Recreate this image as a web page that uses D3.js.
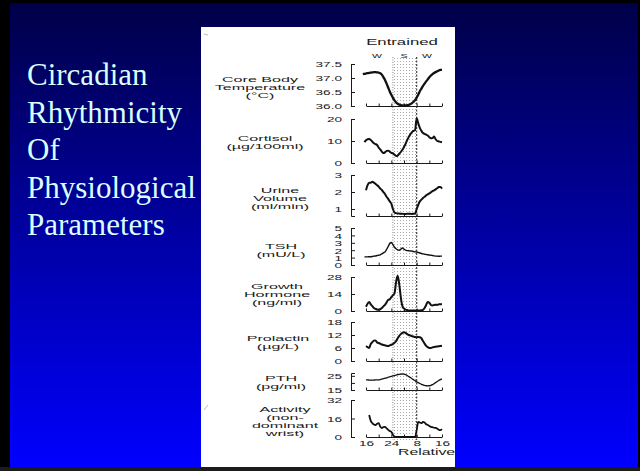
<!DOCTYPE html>
<html>
<head>
<meta charset="utf-8">
<script src="https://cdn.jsdelivr.net/npm/d3@7/dist/d3.min.js"></script>
<style>
  html, body { margin: 0; padding: 0; background: #000; }
  svg { display: block; }
  .fig text { font-family: "Liberation Sans", Arial, sans-serif; fill: #1a1a1a; }
  .axis path, .axis line { stroke: #1a1a1a; }
</style>
</head>
<body>
<svg id="slide" width="640" height="471"></svg>
<script>
// ---- data ----
var titleLines = ["Circadian", "Rhythmicity", "Of", "Physiological", "Parameters"];

// relative clock time, half-hour steps
var hours = [15, 15.5, 16, 16.5, 17, 17.5, 18, 18.5, 19, 19.5, 20, 20.5, 21, 21.5, 22, 22.5,
             23, 23.5, 24, 24.5, 25, 25.5, 26, 26.5, 27, 27.5, 28, 28.5, 29, 29.5, 30, 30.5,
             31, 31.5, 32, 32.5, 33, 33.5, 34, 34.5, 35, 35.5, 36, 36.5, 37, 37.5, 38, 38.5,
             39, 39.5, 40];

var temperature = [37.14, 37.15, 37.16, 37.17, 37.18, 37.19, 37.2, 37.21, 37.21, 37.2, 37.19, 37.17,
  37.12, 37.03, 36.93, 36.8, 36.66, 36.52, 36.4, 36.29, 36.2, 36.13, 36.08, 36.05, 36.03, 36.02,
  36.02, 36.02, 36.03, 36.04, 36.06, 36.1, 36.15, 36.21, 36.3, 36.4, 36.53, 36.62, 36.72, 36.8,
  36.88, 36.95, 37.03, 37.09, 37.14, 37.18, 37.21, 37.24, 37.27, 37.29, 37.3];

var cortisol = [null, 9.5, 10.3, 10.8, 10.9, 10.5, 9.7, 9.0, 8.6, 8.2, 7.0, 6.2, 5.2, 4.5, 4.8, 5.5,
  5.6, 5.2, 4.6, 4.4, 3.8, 3.2, 3.4, 4.2, 5.0, 6.0, 7.3, 8.7, 10.4, 11.8, 13.0, 14.0, 14.6, 15.0,
  20.3, 18.0, 16.0, 14.6, 13.6, 13.2, 12.9, 12.5, 11.7, 11.2, 11.3, 12.0, 10.8, 10.0, 9.8, 9.6, 9.4];

var urine = [null, null, 2.1, 2.4, 2.55, 2.55, 2.6, 2.55, 2.48, 2.4, 2.32, 2.2, 2.12, 2.0, 1.88, 1.72,
  1.6, 1.45, 1.32, 1.0, 0.8, 0.76, 0.74, 0.73, 0.72, 0.72, 0.71, 0.71, 0.72, 0.72, 0.72, 0.71, 0.72,
  0.73, 1.0, 1.25, 1.45, 1.55, 1.65, 1.72, 1.8, 1.86, 1.92, 1.98, 2.05, 2.1, 2.16, 2.22, 2.3, 2.3, 2.2];

var tsh = [null, 1.1, 1.1, 1.1, 1.12, 1.12, 1.15, 1.2, 1.22, 1.28, 1.32, 1.38, 1.5, 1.65, 1.75, 2.1,
  2.5, 2.9, 3.05, 2.75, 2.4, 2.2, 2.05, 2.0, 2.15, 2.3, 2.15, 2.0, 1.95, 1.92, 1.9, 1.88, 1.82, 1.78,
  1.75, 1.7, 1.62, 1.55, 1.5, 1.46, 1.42, 1.38, 1.35, 1.32, 1.28, 1.24, 1.2, 1.2, 1.18, 1.2, 1.2];

var growthHormone = [null, null, 3.5, 6, 7.5, 5.5, 4.0, 2.5, 1.8, 1.2, 1.0, 1.5, 2.4, 3.8, 5.0, 7.0,
  9.2, 9.6, 11.5, 13.0, 14.5, 24, 29, 22, 11, 4, 2.0, 1.2, 0.8, 0.5, 0.5, 0.5, 0.5, 0.5, 0.5, 0.5,
  0.5, 0.6, 1.0, 2.5, 5.0, 7.5, 6.8, 5.0, 4.5, 5.0, 5.2, 5.0, 5.5, 5.6, 5.5];

var prolactin = [null, null, 6.9, 6.4, 6.0, 7.8, 8.7, 9.4, 9.5, 8.6, 8.3, 8.0, 7.6, 7.4, 7.2, 7.0,
  6.9, 7.2, 7.5, 7.8, 8.4, 9.2, 10.5, 11.6, 12.4, 13.0, 13.3, 13.0, 12.4, 12.0, 11.8, 11.5, 11.3,
  11.1, 11.0, 11.1, 11.0, 10.5, 9.2, 8.0, 7.0, 6.4, 6.0, 6.0, 6.3, 6.5, 6.6, 6.7, 6.8, 6.9, 7.0];

var pth = [null, null, 22.1, 22.1, 22.0, 22.0, 22.0, 22.0, 22.1, 22.1, 22.2, 22.4, 22.7, 23.0, 23.3,
  23.6, 24.0, 24.3, 24.6, 24.9, 25.2, 25.5, 25.8, 26.0, 26.2, 26.3, 26.2, 25.8, 25.2, 24.5, 23.8,
  23.0, 22.3, 21.6, 20.8, 20.2, 19.6, 19.0, 18.6, 18.2, 18.0, 17.9, 18.0, 18.3, 18.8, 19.5, 20.2,
  21.0, 21.7, 22.3, 22.9];

var activity = [null, null, null, null, 19, 14, 12, 10.8, 10.4, 11.5, 12, 9, 7.8, 8.5, 8.7, 7.5,
  6.2, 5.2, 4.5, 2.0, 0.5, 0, 0, 0, 0, 0, 0, 0, 0, 0, 0, 0, 0, 0,
  6, 13, 12.5, 12, 13, 12.5, 11.0, 10.4, 9.5, 8.7, 8.5, 8.0, 7.8, 7.2, 6.2, 6.0, 6.9];

var sleepHours = [24.5, 32];
var hourTicks = [16, 20, 24, 28, 32, 36, 40];
var hourTickLabels = ["16", "", "24", "", "8", "", "16"];

var tempTicks = [36.0, 36.5, 37.0, 37.5];
var cortisolTicks = [0, 10, 20];
var urineTicks = [1, 2, 3];
var tshTicks = [0, 1, 2, 3, 4, 5];
var ghTicks = [0, 14, 28];
var prolactinTicks = [0, 6, 12, 18];
var pthTicks = [15, 20, 25];
var pthTickLabels = ["15", "", "25"];
var activityTicks = [0, 16, 32];

var tempLabel = ["Core Body", "Temperature", "(\u00B0C)"];
var cortisolLabel = ["Cortisol", "(\u00B5g/100ml)"];
var urineLabel = ["Urine", "Volume", "(ml/min)"];
var tshLabel = ["TSH", "(mU/L)"];
var ghLabel = ["Growth", "Hormone", "(ng/ml)"];
var prolactinLabel = ["Prolactin", "(\u00B5g/L)"];
var pthLabel = ["PTH", "(pg/ml)"];
var activityLabel = ["Activity", "(non-", "dominant", "wrist)"];

// ---- slide ----
var svg = d3.select("#slide");
var defs = svg.append("defs");
var grad = defs.append("linearGradient").attr("id", "bg").attr("x1", 0).attr("y1", 0).attr("x2", 0).attr("y2", 1);
grad.append("stop").attr("offset", "0%").attr("stop-color", "#000048");
grad.append("stop").attr("offset", "100%").attr("stop-color", "#0000ff");

var dots = defs.append("pattern").attr("id", "dots").attr("width", 3).attr("height", 3)
  .attr("patternUnits", "userSpaceOnUse");
dots.append("rect").attr("x", 1).attr("y", 1).attr("width", 1).attr("height", 1).attr("fill", "#aaa");

svg.append("rect").attr("width", 640).attr("height", 471).attr("fill", "#000");
svg.append("rect").attr("x", 10).attr("y", 3).attr("width", 628).attr("height", 464).attr("fill", "url(#bg)");
svg.append("rect").attr("x", 0).attr("y", 467).attr("width", 640).attr("height", 4).attr("fill", "#1c1c1c");

svg.append("g").selectAll("text").data(titleLines).enter().append("text")
  .attr("x", 27)
  .attr("y", function(d, i) { return 85 + i * 37.5; })
  .style("font-family", "'Liberation Serif', 'Times New Roman', serif")
  .style("font-size", "31px")
  .style("fill", "#d8ffff")
  .text(function(d) { return d; });

// ---- figure ----
svg.append("rect").attr("x", 201).attr("y", 27).attr("width", 254).attr("height", 440).attr("fill", "#fff");
var fig = svg.append("g").attr("class", "fig");

// scan specks
fig.append("line").attr("x1", 204).attr("y1", 34).attr("x2", 208).attr("y2", 35)
  .attr("stroke", "#bbb").attr("stroke-width", 1);
fig.append("line").attr("x1", 204).attr("y1", 410).attr("x2", 208).attr("y2", 405)
  .attr("stroke", "#aaa").attr("stroke-width", 0.8);

var x = d3.scaleLinear().domain([16, 40]).range([366, 442]);

function stretched(g, tx, ty, str, size, sx, anchor) {
  return g.append("text")
    .attr("transform", "translate(" + tx + "," + ty + ") scale(" + sx + ",1)")
    .attr("text-anchor", anchor)
    .style("font-size", size + "px")
    .text(str);
}

// sleep band
fig.append("rect")
  .attr("x", x(sleepHours[0])).attr("y", 57)
  .attr("width", x(sleepHours[1]) - x(sleepHours[0])).attr("height", 383)
  .attr("fill", "url(#dots)");
fig.append("line").attr("x1", x(sleepHours[0])).attr("x2", x(sleepHours[0]))
  .attr("y1", 57).attr("y2", 440).attr("stroke", "#888").attr("stroke-dasharray", "1,1.5");
fig.append("line").attr("x1", x(sleepHours[1])).attr("x2", x(sleepHours[1]))
  .attr("y1", 57).attr("y2", 440).attr("stroke", "#333").attr("stroke-width", 1.1)
  .attr("stroke-dasharray", "2,1.5");

// header
stretched(fig, 402, 45, "Entrained", 8.6, 1.95, "middle");
stretched(fig, 377, 57.5, "W", 6.2, 1.7, "middle");
stretched(fig, 404, 57.5, "S", 6.2, 1.7, "middle");
stretched(fig, 427, 57.5, "W", 6.2, 1.7, "middle");

// layout of the eight stacked panels (pixel rows of the scan)
var panels = [
  { values: temperature, domain: [36.0, 37.5], top: 64, bottom: 106, ticks: tempTicks,
    fmt: function(d) { return d3.format(".1f")(d); }, label: tempLabel, lx: 260, lmid: 87, w: 2.3 },
  { values: cortisol, domain: [0, 20], top: 119, bottom: 163, ticks: cortisolTicks,
    label: cortisolLabel, lx: 265, lmid: 142.5, w: 2 },
  { values: urine, domain: [0.59, 3], top: 175, bottom: 216, ticks: urineTicks,
    label: urineLabel, lx: 280, lmid: 198.5, w: 2 },
  { values: tsh, domain: [0, 5], top: 228, bottom: 265, ticks: tshTicks,
    label: tshLabel, lx: 281, lmid: 250.5, w: 1.4 },
  { values: growthHormone, domain: [0, 28], top: 277, bottom: 311, ticks: ghTicks,
    label: ghLabel, lx: 277, lmid: 294.5, w: 2 },
  { values: prolactin, domain: [0, 18], top: 322, bottom: 361, ticks: prolactinTicks,
    label: prolactinLabel, lx: 278, lmid: 342.5, w: 2 },
  { values: pth, domain: [15, 27], top: 373, bottom: 390, ticks: pthTicks,
    fmt: function(d, i) { return pthTickLabels[i]; }, label: pthLabel, lx: 281, lmid: 382.5, w: 1.3 },
  { values: activity, domain: [0, 32], top: 400, bottom: 437, ticks: activityTicks,
    label: activityLabel, lx: 285, lmid: 421.5, w: 1.8, last: true }
];

var LINE_GAP = 8;

panels.forEach(function(p) {
  var y = d3.scaleLinear().domain(p.domain).range([p.bottom, p.top]);
  var g = fig.append("g");

  // y axis bracket, ticks pointing inward
  var ya = g.append("g").attr("class", "axis").attr("transform", "translate(351,0)")
    .call(d3.axisLeft(y).tickValues(p.ticks).tickSize(-4).tickSizeOuter(-4)
      .tickFormat(p.fmt || function(d) { return d; }));
  ya.selectAll("text").attr("x", null).attr("dy", "0.35em")
    .attr("transform", "translate(-9,0) scale(1.7,1)")
    .style("font-size", "8px").attr("fill", "#1a1a1a");
  ya.attr("font-family", null).attr("font-size", null);

  // time axis along the bottom
  var xa = g.append("g").attr("class", "axis").attr("transform", "translate(0," + p.bottom + ")")
    .call(d3.axisBottom(x).tickValues(hourTicks).tickSize(-2.5).tickSizeOuter(0)
      .tickFormat(function(d, i) { return p.last ? hourTickLabels[i] : ""; }));
  xa.selectAll("text").attr("y", null).attr("dy", null)
    .attr("transform", "translate(0,9) scale(1.7,1)")
    .style("font-size", "8px").attr("fill", "#1a1a1a");
  xa.attr("font-family", null).attr("font-size", null);

  // curve
  var line = d3.line()
    .defined(function(d) { return d[1] !== null; })
    .x(function(d) { return x(d[0]); })
    .y(function(d) { return y(d[1]); })
    .curve(d3.curveMonotoneX);
  g.append("path")
    .datum(hours.map(function(h, i) { return [h, p.values[i]]; }))
    .attr("fill", "none").attr("stroke", "#111").attr("stroke-width", p.w)
    .attr("stroke-linejoin", "round")
    .attr("d", line);

  // parameter name, stacked and centred on the panel
  var first = p.lmid - (p.label.length - 1) * LINE_GAP / 2;
  p.label.forEach(function(s, i) {
    stretched(g, p.lx, first + i * LINE_GAP + 2.5, s, 7, 2.3, "middle");
  });
});

stretched(fig, 398, 455, "Relative", 8.8, 1.8, "start");
</script>
</body>
</html>
